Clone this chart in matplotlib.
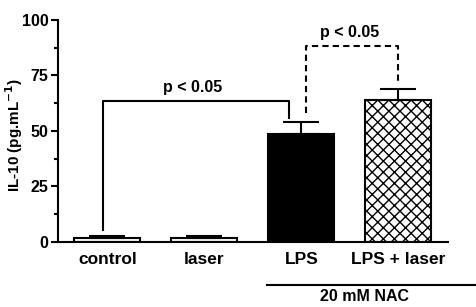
import matplotlib.pyplot as plt
import numpy as np

plt.rcParams['font.family'] = ['Liberation Sans', 'DejaVu Sans']
plt.rcParams['font.weight'] = 'bold'
plt.rcParams['hatch.linewidth'] = 1.0

# data
groups = ['control', 'laser', 'LPS', 'LPS + laser']
means = [1.8, 2.0, 48.6, 64.0]
errs = [1.1, 0.7, 5.6, 4.8]
fills = ['white', 'white', 'black', 'white']
hatches = [None, None, None, 'xxx']

fig = plt.figure(figsize=(4.77, 3.07), dpi=100)
ax = fig.add_axes([0.1216, 0.2117, 0.8174, 0.7233])

x = np.arange(len(groups))
for i in range(len(groups)):
    ax.bar(x[i], means[i], width=0.68, color=fills[i], edgecolor='black',
           linewidth=1.5, hatch=hatches[i], zorder=2)
ax.errorbar(x, means, yerr=[np.zeros(len(errs)), errs], fmt='none',
            ecolor='black', elinewidth=1.5, capsize=13, capthick=1.5, zorder=3)

# significance brackets
ax.plot([-0.05, -0.05, 1.87, 1.87], [5.4, 63.7, 63.7, 55.9], color='black', lw=1.5)
ax.text(0.88, 66.0, 'p < 0.05', ha='center', va='bottom', fontsize=11.5, fontweight='bold')
ax.plot([2.05, 2.05, 3.0, 3.0], [58.0, 88.4, 88.4, 71.6], color='black', lw=1.5,
        ls=(0, (3, 2)))
ax.text(2.5, 91.0, 'p < 0.05', ha='center', va='bottom', fontsize=11.5, fontweight='bold')

ax.set_xlim(-0.51, 3.51)
ax.set_ylim(0, 100)
ax.set_yticks([0, 25, 50, 75, 100])
ax.set_yticks(np.arange(12.5, 100, 25), minor=True)
ax.set_xticks(x)
ax.set_xticklabels(groups, fontsize=12.5, fontweight='bold')
ax.tick_params(axis='x', length=0, pad=7)
ax.tick_params(axis='y', which='major', length=5, width=1.5, labelsize=11.5, pad=2)
ax.tick_params(axis='y', which='minor', length=3, width=1.5)
for lbl in ax.get_yticklabels():
    lbl.set_fontweight('bold')
ax.spines['top'].set_visible(False)
ax.spines['right'].set_visible(False)
ax.spines['left'].set_linewidth(1.5)
ax.spines['bottom'].set_linewidth(1.5)
fig.text(14 / 477, 1 - 135 / 307, 'IL-10 (pg.mL$^{\\mathbf{-1}}$)', rotation=90,
         ha='center', va='center', fontsize=11, fontweight='bold')

# group line for NAC treatment
ax.plot([1.64, 3.82], [-19.5, -19.5], color='black', lw=1.5, clip_on=False)
ax.text(2.65, -21.3, '20 mM NAC', ha='center', va='top', fontsize=11.5, fontweight='bold')

fig.savefig('out.png', dpi=100)
